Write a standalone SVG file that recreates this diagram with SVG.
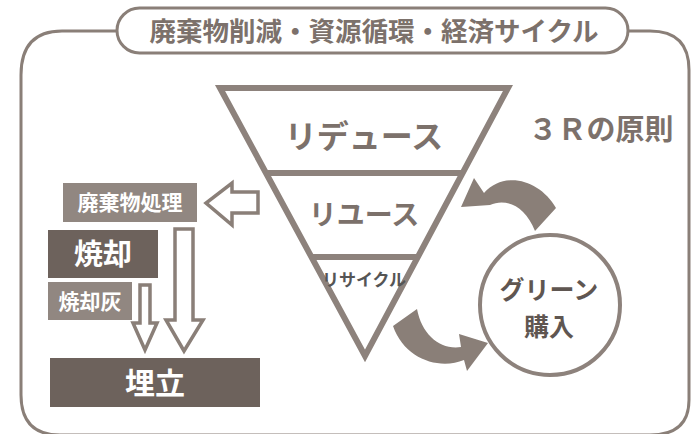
<svg xmlns="http://www.w3.org/2000/svg" width="691" height="434" viewBox="0 0 691 434">
<style>
.line{fill:none;stroke:#8a7f78;stroke-width:3}
.tri{fill:none;stroke:#8d827c;stroke-width:6;stroke-linejoin:miter}
.hollow{fill:#fff;stroke:#8a7f78;stroke-width:3.5;stroke-linejoin:miter}
.solid{fill:#8a7f78}
.dark{fill:#6d625c}
.light{fill:#918781}
text{font-family:"Noto Sans CJK JP","Noto Sans",sans-serif;font-weight:bold;text-anchor:middle}
.w{fill:#fff}
.g{fill:#7c716b}
</style>
<rect width="691" height="434" fill="#fff"/>
<g id="frame">
<path class="line" d="M117,31 H62 Q21,31 21,75 V395 Q21,435 60,435 H650 Q689,435 689,400 V70 Q689,31 650,31 H628"/>
</g>
<g id="title">
<rect x="117" y="8" width="511" height="45" rx="22.5" fill="#fff" stroke="#8a7f78" stroke-width="3"/>
<text class="g" x="374" y="40.5" font-size="26.5">廃棄物削減・資源循環・経済サイクル</text>
</g>
<g id="pyramid">
<polygon class="tri" points="220,88 508,88 365,356"/>
<line class="tri" x1="266" y1="173" x2="463" y2="173"/>
<line class="tri" x1="311" y1="257" x2="418" y2="257"/>
</g>
<g id="reduce"><text class="g" x="364" y="148" font-size="32">リデュース</text></g>
<g id="reuse"><text class="g" x="364" y="225" font-size="28">リユース</text></g>
<g id="recycle"><text x="364" y="286" font-size="17" fill="#555" font-weight="500">リサイクル</text></g>
<g id="principle"><text class="g" x="601" y="140" font-size="29">３Ｒの原則</text></g>
<g id="waste"><rect class="light" x="63" y="183" width="134" height="39"/><text class="w" x="130" y="210" font-size="21">廃棄物処理</text></g>
<g id="incinerate"><rect class="dark" x="48" y="230" width="110" height="48"/><text class="w" x="103" y="265" font-size="29">焼却</text></g>
<g id="ash"><rect class="light" x="48" y="282" width="84" height="38"/><text class="w" x="90" y="309" font-size="21">焼却灰</text></g>
<g id="landfill"><rect class="dark" x="50" y="358" width="210" height="49"/><text class="w" x="155" y="394" font-size="30">埋立</text></g>
<g id="green"><circle cx="550" cy="305" r="70" fill="#fff" stroke="#8d827c" stroke-width="4"/>
<text x="549" y="299" font-size="25" fill="#5f5651">グリーン</text>
<text x="549" y="336" font-size="25" fill="#5f5651">購入</text></g>
<g id="connectors">
<path class="hollow" d="M258,192 H232 V183 L206,203 L232,225 V213 H258 Z"/>
<path class="hollow" d="M175,229 H193 V320 H203 L184,351 L166,320 H175 Z"/>
<path class="hollow" d="M140,285 H150 V323 H157 L145,350 L133,323 H140 Z"/>
<path class="solid" d="M474,178 L461,207 L490,205 C505,198 525,205 535,231 L556,208 C540,180 505,170 484,193 Z"/>
<path class="solid" d="M488,343 L459,334 L461,347 C440,350 422,335 417,309 L393,326 C405,360 440,370 464,360 L467,371 Z"/>
</g>
</svg>
